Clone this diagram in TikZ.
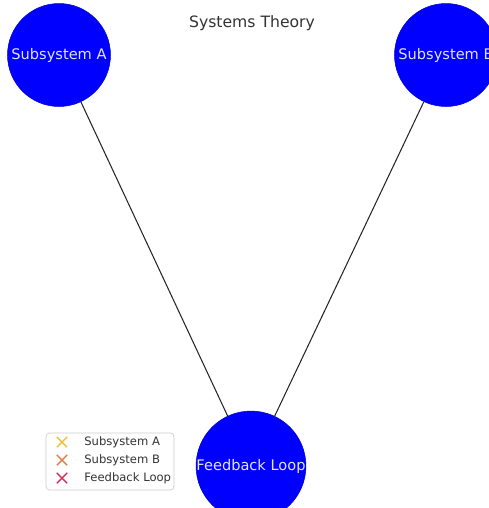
\documentclass[tikz,border=0pt]{standalone}
\usepackage{fontspec}
\setmainfont{DejaVu Sans}
\usetikzlibrary{shapes.misc, positioning}
\definecolor{nodeblue}{HTML}{0000FF}
\definecolor{labelfg}{HTML}{E4E4F4}
\definecolor{titlegray}{HTML}{333333}
\definecolor{markA}{HTML}{F2C034}
\definecolor{markB}{HTML}{E07F4A}
\definecolor{markC}{HTML}{D3325E}

\begin{document}
\begin{tikzpicture}[
    x=0.02cm, y=-0.02cm,
    every node/.style={font=\fontsize{8.3}{10}\selectfont},
    sys/.style={circle, fill=nodeblue, draw=nodeblue!80!black, line width=0.3pt,
                minimum size=2.06cm, inner sep=0pt, text=labelfg},
    link/.style={draw=black!85, line width=0.6pt},
    legendbox/.style={draw=black!20, rounded corners=2pt, fill=white,
                      minimum width=2.56cm, minimum height=1.14cm, inner sep=0pt},
    keymark/.style={cross out, draw, line width=0.8pt, minimum size=0.18cm, inner sep=0pt},
    entry/.style={anchor=west, inner sep=0pt, font=\fontsize{6.6}{8}\selectfont, text=black!80}
]
    \useasboundingbox (0,0) rectangle (488,508);

    \node[font=\fontsize{8.9}{10}\selectfont, text=titlegray] (title) at (252,23) {Systems Theory};

    % Three subsystems
    \node[sys] (sa) at ( 59, 55) {Subsystem A};
    \node[sys] (sb) at (446, 55) {Subsystem B};
    \node[sys] (fb) at (251,466) {Feedback Loop};

    \draw[link] (sa) -- (fb);
    \draw[link] (sb) -- (fb);

    % Legend
    \node[legendbox] (lg) at (110,461.5) {};
    \node[keymark, draw=markA] (ma) at (62,442) {};
    \node[keymark, draw=markB] (mb) at (62,460) {};
    \node[keymark, draw=markC] (mc) at (62,478) {};
    \node[entry] (ta) at (84,442) {Subsystem A};
    \node[entry] (tb) at (84,460) {Subsystem B};
    \node[entry] (tc) at (84,478) {Feedback Loop};
\end{tikzpicture}
\end{document}
